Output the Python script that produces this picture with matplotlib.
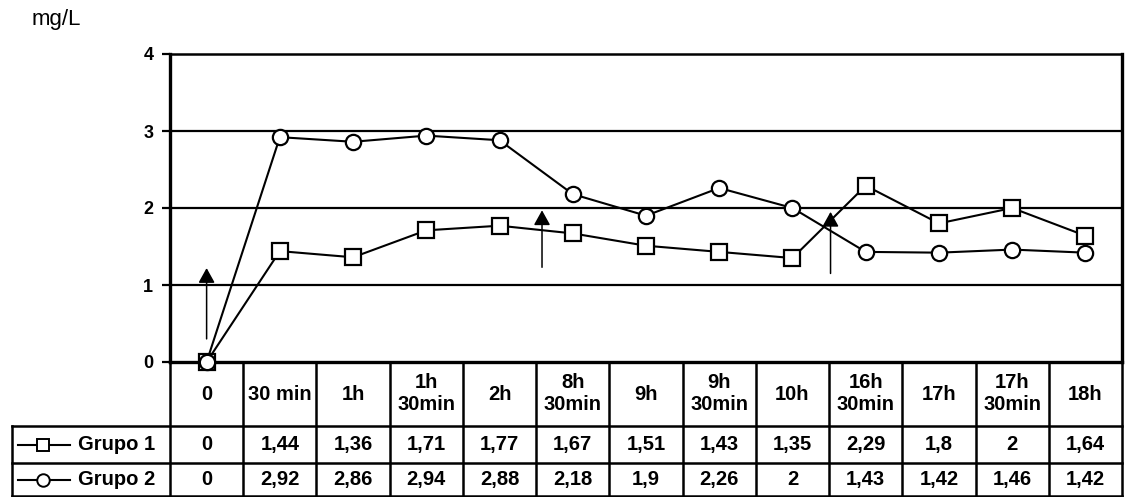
import matplotlib.pyplot as plt
from matplotlib.lines import Line2D

plt.rcParams['font.family'] = ['Liberation Sans', 'DejaVu Sans']

# time points and measured concentrations (mg/L)
tempos = ['0', '30 min', '1h', '1h\n30min', '2h', '8h\n30min', '9h',
          '9h\n30min', '10h', '16h\n30min', '17h', '17h\n30min', '18h']
grupo1 = [0, 1.44, 1.36, 1.71, 1.77, 1.67, 1.51, 1.43, 1.35, 2.29, 1.8, 2, 1.64]
grupo2 = [0, 2.92, 2.86, 2.94, 2.88, 2.18, 1.9, 2.26, 2, 1.43, 1.42, 1.46, 1.42]
series_names = ['Grupo 1', 'Grupo 2']
series_markers = ['s', 'o']
series_msize = [12, 11]

# dosing arrows: x position, start and tip values
arrow_x = [0, 4.58, 8.52]
arrow_from = [0.3, 1.23, 1.15]
arrow_to = [1.22, 1.97, 1.95]

W, H = 1129, 497
fig = plt.figure(figsize=(W / 100, H / 100), dpi=100)
L, R, T, B = 170, 1122, 54, 362
ax = fig.add_axes([L / W, 1 - B / H, (R - L) / W, (B - T) / H])

n = len(tempos)
x = list(range(n))
ax.set_xlim(-0.5, n - 0.5)
ax.set_ylim(0, 4)

for yv in [1, 2, 3]:
    ax.axhline(yv, color='black', lw=1.6, zorder=1)

for vals, mk, ms in zip([grupo1, grupo2], series_markers, series_msize):
    ax.plot(x, vals, color='black', lw=1.5, marker=mk, markersize=ms,
            markerfacecolor='white', markeredgecolor='black',
            markeredgewidth=1.6, zorder=3, clip_on=False)

for xa, y0, y1 in zip(arrow_x, arrow_from, arrow_to):
    ax.annotate('', xy=(xa, y1), xytext=(xa, y0),
                arrowprops=dict(arrowstyle='-|>,head_length=0.9,head_width=0.5',
                                color='black', lw=1.1, shrinkA=0, shrinkB=0),
                zorder=4)

ax.set_xticks([])
ax.set_yticks([0, 1, 2, 3, 4])
ax.set_yticklabels(['0', '1', '2', '3', '4'], fontsize=13, fontweight='bold')
ax.tick_params(axis='y', length=6, width=1.6, pad=6)
for s in ['left', 'right', 'bottom']:
    ax.spines[s].set_linewidth(2.4)
ax.spines['top'].set_linewidth(1.8)

fig.text(32 / W, 1 - 20 / H, 'mg/L', fontsize=16, va='center', ha='left')

# data table under the plot, in axes fraction for y
hdr_b = -(426 - B) / (B - T)
r1_b = -(463 - B) / (B - T)
r2_b = -(496 - B) / (B - T)
lab_l = (12 - L) / (R - L)

tr = ax.get_xaxis_transform()
kw = dict(color='black', lw=1.8, clip_on=False)
for k in range(n + 1):
    xb = k - 0.5
    ax.plot([xb, xb], [0, r2_b], transform=tr, **kw)
for yb in [hdr_b, r1_b, r2_b]:
    ax.plot([lab_l, 1], [yb, yb], transform=ax.transAxes, **kw)
ax.plot([lab_l, lab_l], [hdr_b, r2_b], transform=ax.transAxes, **kw)

for k, lab in enumerate(tempos):
    ax.text(k, hdr_b / 2, lab, transform=tr, ha='center', va='center',
            fontsize=14.5, fontweight='bold', linespacing=1.2)


def fmt(v):
    return f'{v:g}'.replace('.', ',')


rows = [(hdr_b + r1_b) / 2, (r1_b + r2_b) / 2]
for vals, yc, name, mk in zip([grupo1, grupo2], rows, series_names, series_markers):
    for k, v in enumerate(vals):
        ax.text(k, yc, fmt(v), transform=tr, ha='center', va='center',
                fontsize=14.5, fontweight='bold')
    yf = 1 - (B - yc * (B - T)) / H
    fig.add_artist(Line2D([18 / W, 70 / W], [yf, yf], color='black', lw=1.5))
    fig.add_artist(Line2D([43 / W], [yf], color='black', lw=0, marker=mk,
                          markersize=9, markerfacecolor='white',
                          markeredgewidth=1.4))
    fig.text(78 / W, yf, name, fontsize=14.5, fontweight='bold',
             va='center', ha='left')

fig.savefig('out.png', dpi=100)
